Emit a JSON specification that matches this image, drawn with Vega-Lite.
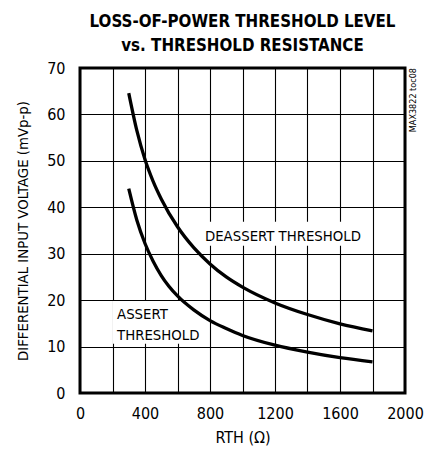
{
  "$schema": "https://vega.github.io/schema/vega-lite/v6.json",
  "autosize": "none",
  "width": 325,
  "height": 325,
  "padding": {"left": 80, "top": 68, "right": 19, "bottom": 59},
  "background": "white",
  "title": {
    "text": ["LOSS-OF-POWER THRESHOLD LEVEL", "vs. THRESHOLD RESISTANCE"],
    "font": "DejaVu Sans Condensed, DejaVu Sans, sans-serif",
    "fontSize": 16.8,
    "fontWeight": "bold",
    "color": "black",
    "anchor": "middle",
    "offset": 5,
    "lineHeight": 24
  },
  "config": {
    "view": {"stroke": "black", "strokeWidth": 3},
    "font": "DejaVu Sans Condensed, DejaVu Sans, sans-serif"
  },
  "datasets": {
    "curves": [
      {"series": "DEASSERT", "R": 300, "V": 64.6},
      {"series": "DEASSERT", "R": 350, "V": 56.5},
      {"series": "DEASSERT", "R": 400, "V": 50.3},
      {"series": "DEASSERT", "R": 450, "V": 45.6},
      {"series": "DEASSERT", "R": 500, "V": 41.8},
      {"series": "DEASSERT", "R": 600, "V": 35.8},
      {"series": "DEASSERT", "R": 700, "V": 31.3},
      {"series": "DEASSERT", "R": 800, "V": 27.8},
      {"series": "DEASSERT", "R": 900, "V": 25.0},
      {"series": "DEASSERT", "R": 1000, "V": 22.8},
      {"series": "DEASSERT", "R": 1200, "V": 19.4},
      {"series": "DEASSERT", "R": 1400, "V": 16.9},
      {"series": "DEASSERT", "R": 1600, "V": 14.9},
      {"series": "DEASSERT", "R": 1800, "V": 13.4},
      {"series": "ASSERT", "R": 300, "V": 44.0},
      {"series": "ASSERT", "R": 350, "V": 37.2},
      {"series": "ASSERT", "R": 400, "V": 32.2},
      {"series": "ASSERT", "R": 450, "V": 28.4},
      {"series": "ASSERT", "R": 500, "V": 25.3},
      {"series": "ASSERT", "R": 600, "V": 20.9},
      {"series": "ASSERT", "R": 700, "V": 17.9},
      {"series": "ASSERT", "R": 800, "V": 15.6},
      {"series": "ASSERT", "R": 900, "V": 13.9},
      {"series": "ASSERT", "R": 1000, "V": 12.4},
      {"series": "ASSERT", "R": 1200, "V": 10.3},
      {"series": "ASSERT", "R": 1400, "V": 8.8},
      {"series": "ASSERT", "R": 1600, "V": 7.6},
      {"series": "ASSERT", "R": 1800, "V": 6.7}
    ],
    "labels": [
      {"label": "DEASSERT THRESHOLD", "R": 769, "V": 32.8, "R0": 738, "R2": 1723, "V0": 31.7, "V2": 36.9},
      {"label": "ASSERT\nTHRESHOLD", "R": 228, "V": 15.9, "R0": 203, "R2": 740, "V0": 10.6, "V2": 19.8}
    ],
    "notes": [
      {"label": "MAX3822 toc08", "R": 2000, "V": 70}
    ]
  },
  "encoding": {
    "x": {
      "field": "R",
      "type": "quantitative",
      "scale": {"domain": [0, 2000], "nice": false, "zero": false},
      "axis": {
        "values": [0, 200, 400, 600, 800, 1000, 1200, 1400, 1600, 1800, 2000],
        "labelExpr": "datum.value % 400 === 0 ? datum.label : ''",
        "format": "d",
        "grid": true,
        "gridColor": "black",
        "gridOpacity": 1,
        "gridWidth": 1.1,
        "ticks": false,
        "domain": false,
        "labelPadding": 12,
        "labelFontSize": 16,
        "labelColor": "black",
        "labelFlush": false,
        "labelOverlap": false,
        "title": "RTH (Ω)",
        "titleFontSize": 16,
        "titleFontWeight": "normal",
        "titleColor": "black",
        "titlePadding": 8
      }
    },
    "y": {
      "field": "V",
      "type": "quantitative",
      "scale": {"domain": [0, 70], "nice": false},
      "axis": {
        "values": [0, 10, 20, 30, 40, 50, 60, 70],
        "grid": true,
        "gridColor": "black",
        "gridOpacity": 1,
        "gridWidth": 1.1,
        "ticks": false,
        "domain": false,
        "labelPadding": 15,
        "labelFontSize": 16,
        "labelColor": "black",
        "labelFlush": false,
        "labelOverlap": false,
        "title": "DIFFERENTIAL INPUT VOLTAGE (mVp-p)",
        "titleFontSize": 14.8,
        "titleFontWeight": "normal",
        "titleColor": "black",
        "titlePadding": 16
      }
    }
  },
  "layer": [
    {
      "data": {"name": "labels"},
      "mark": {"type": "rect", "fill": "white", "stroke": null},
      "encoding": {
        "x": {"field": "R0", "type": "quantitative"},
        "x2": {"field": "R2"},
        "y": {"field": "V0", "type": "quantitative"},
        "y2": {"field": "V2"}
      }
    },
    {
      "data": {"name": "curves"},
      "mark": {"type": "line", "color": "black", "strokeWidth": 3.3, "interpolate": "monotone"},
      "encoding": {
        "detail": {"field": "series", "type": "nominal"}
      }
    },
    {
      "data": {"name": "labels"},
      "mark": {"type": "text", "align": "left", "baseline": "alphabetic", "fontSize": 14.8, "color": "black", "lineBreak": "\n", "lineHeight": 20.5},
      "encoding": {
        "text": {"field": "label", "type": "nominal"}
      }
    },
    {
      "data": {"name": "notes"},
      "mark": {"type": "text", "angle": 270, "align": "right", "baseline": "middle", "fontSize": 9, "color": "black", "dy": 8},
      "encoding": {
        "text": {"field": "label", "type": "nominal"}
      }
    }
  ]
}
